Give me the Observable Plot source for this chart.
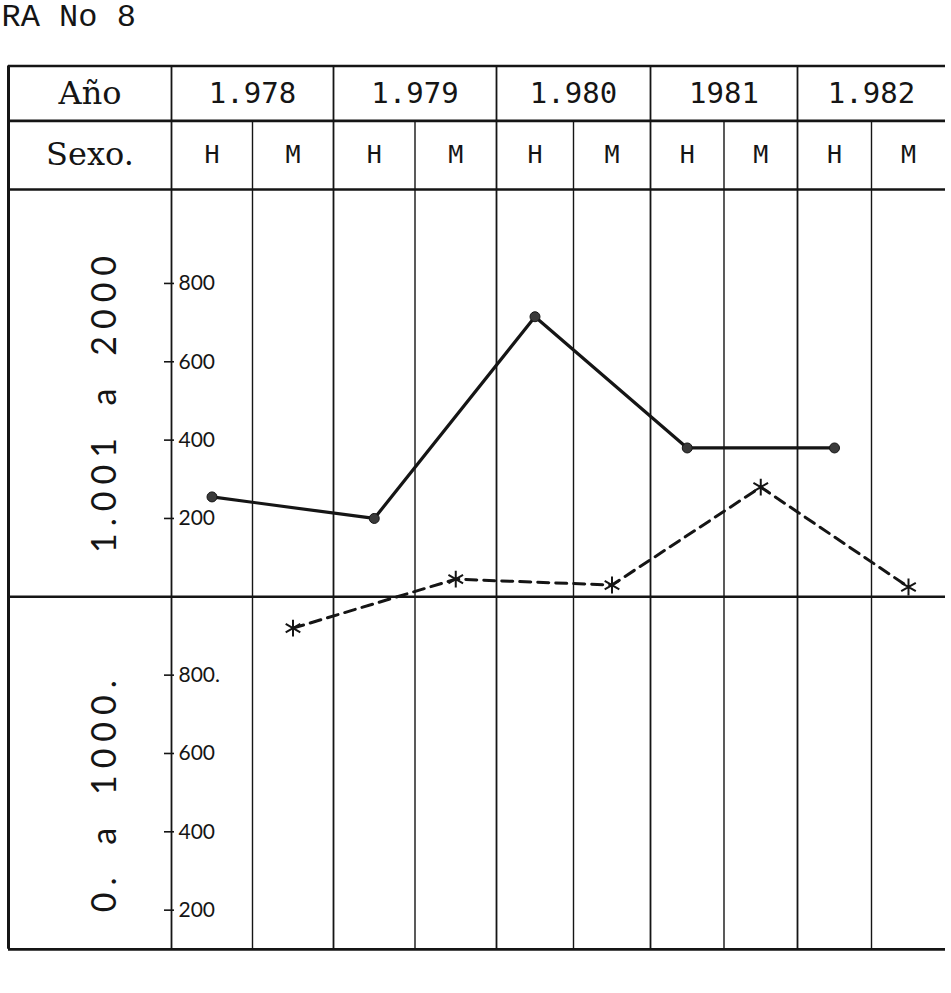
<!DOCTYPE html>
<html><head><meta charset="utf-8">
<script src="https://cdn.jsdelivr.net/npm/d3@7"></script>
<script src="https://cdn.jsdelivr.net/npm/@observablehq/plot@0.6"></script>
<style>body{margin:0;background:#fff} svg{display:block}</style>
</head><body><div id="chart"></div>
<script>
// ---- data ----
const title = "RA No 8";
const years = ["1.978", "1.979", "1.980", "1981", "1.982"];
const sexes = ["H", "M"];
const hombres = [1255, 1200, 1715, 1380, 1380];   // solid line (H columns)
const mujeres = [920, 1045, 1030, 1280, 1025];    // dashed line (M columns)
const upperTicks = [1200, 1400, 1600, 1800];
const upperTickLabels = ["200", "400", "600", "800"];
const lowerTicks = [200, 400, 600, 800];
const lowerTickLabels = ["200", "400", "600", "800."];
const bands = [
  {label: "1.001 a 2000", lo: 1000, hi: 2000},
  {label: "0. a 1000.", lo: 0, hi: 1000}
];
const rowLabels = ["Año", "Sexo."];

// ---- layout (values on the y scale) ----
const TOP = 2355, ROW2 = 2215, ROW3 = 2040, DIV = 1000, BOTTOM = 100;
const LABEL_X = -2.1, RIGHT_X = 10;

const cells = years.flatMap((y, i) => sexes.map((s, j) => ({year: y, sexo: s, col: 2 * i + j})));
const hData = years.map((y, i) => ({x: 2 * i + 0.5, v: hombres[i]}));
const mData = years.map((y, i) => ({x: 2 * i + 1.5, v: mujeres[i]}));
const ticks = upperTicks.map((t, i) => ({t, label: upperTickLabels[i]}))
  .concat(lowerTicks.map((t, i) => ({t, label: lowerTickLabels[i]})));

const ink = "#151515";
const hand = "Lato, 'DejaVu Sans', sans-serif";
const mono = "'DejaVu Sans Mono', 'Liberation Mono', monospace";

const chart = Plot.plot({
  width: 951, height: 993,
  marginTop: 0, marginBottom: 0, marginLeft: 0, marginRight: 0,
  x: {type: "linear", domain: [LABEL_X, 0, 2, 4, 6, 8, 10], range: [8, 171, 333, 496, 650, 797, 945], axis: null},
  y: {domain: [0, 2000], range: [988, 204.6], axis: null},
  style: {background: "#fff", color: ink},
  marks: [
    // title (typewritten)
    Plot.text([title], {text: d => d, frameAnchor: "top-left", dx: 1, dy: 3, fontSize: 32,
      fontFamily: "'Liberation Mono', 'DejaVu Sans Mono', monospace", textAnchor: "start", lineAnchor: "top", fill: ink}),
    // table grid
    Plot.ruleY([TOP, ROW2, ROW3, DIV, BOTTOM], {y: d => d, x1: LABEL_X, x2: RIGHT_X, stroke: ink, strokeWidth: 2.6}),
    Plot.ruleX([LABEL_X], {x: d => d, y1: BOTTOM, y2: TOP, stroke: ink, strokeWidth: 3}),
    Plot.ruleX(years.map((y, i) => 2 * i), {x: d => d, y1: BOTTOM, y2: TOP, stroke: ink, strokeWidth: 1.8}),
    Plot.ruleX(years.map((y, i) => 2 * i + 1), {x: d => d, y1: BOTTOM, y2: ROW2, stroke: ink, strokeWidth: 1.4}),
    // header texts
    Plot.text(rowLabels, {text: d => d, x: (LABEL_X) / 2, y: (d, i) => i === 0 ? (TOP + ROW2) / 2 : (ROW2 + ROW3) / 2,
      fontSize: 32, fontFamily: "'DejaVu Serif', serif", fill: ink}),
    Plot.text(years, {text: d => d, x: (d, i) => 2 * i + 1, y: (TOP + ROW2) / 2, fontSize: 29, fontFamily: mono, fill: ink}),
    Plot.text(cells, {text: "sexo", x: d => d.col + 0.5, y: (ROW2 + ROW3) / 2, fontSize: 25, fontFamily: mono, fill: ink}),
    // band labels (vertical)
    Plot.text(bands, {text: "label", x: -0.85, y: d => (d.lo + d.hi) / 2, rotate: -90, fontSize: 34,
      fontFamily: hand, fill: ink}),
    // y ticks on the first year line
    Plot.ruleY(ticks, {y: "t", x1: 0, x2: 0, insetLeft: -7, insetRight: -3, stroke: ink, strokeWidth: 1.6}),
    Plot.text(ticks, {text: "label", x: 0, y: "t", dx: 7, textAnchor: "start", fontSize: 21, fontFamily: hand, fill: ink}),
    // series
    Plot.line(hData, {x: "x", y: "v", stroke: ink, strokeWidth: 3.2}),
    Plot.dot(hData, {x: "x", y: "v", r: 5, fill: "#3a3a3a", stroke: ink, strokeWidth: 1}),
    Plot.line(mData, {x: "x", y: "v", stroke: ink, strokeWidth: 3, strokeDasharray: "11,7"}),
    Plot.dot(mData, {x: "x", y: "v", symbol: "asterisk", r: 8, stroke: ink, strokeWidth: 2})
  ]
});
const bandText = new Set(bands.map(b => b.label));
chart.querySelectorAll("text").forEach(t => {
  if (bandText.has(t.textContent)) {
    t.setAttribute("letter-spacing", "7");
    t.setAttribute("word-spacing", "10");
  }
});
document.getElementById("chart").appendChild(chart);
</script>
</body></html>
